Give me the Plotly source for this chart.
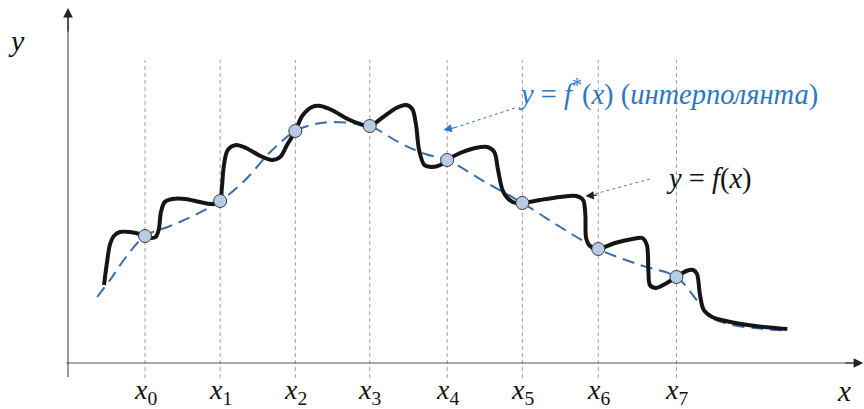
import plotly.graph_objects as go

# Interpolation nodes x_i and the values f(x_i)
node_x = [0.0, 0.99, 1.98, 2.96, 3.98, 4.97, 5.97, 7.00]
node_y = [5.08, 6.48, 9.28, 9.48, 8.12, 6.40, 4.56, 3.44]
node_subs = ["0", "1", "2", "3", "4", "5", "6", "7"]

# The original function y = f(x) (wavy curve)
f_x = [-0.54, -0.50, -0.46, -0.41, -0.33, -0.20, -0.07, 0.0, 0.08, 0.14, 0.18, 0.21,
       0.26, 0.36, 0.53, 0.72, 0.88, 0.99, 1.01, 1.04, 1.09, 1.20, 1.33, 1.52, 1.67,
       1.78, 1.87, 1.98, 2.07, 2.20, 2.31, 2.46, 2.67, 2.83, 2.96, 3.12, 3.31, 3.44,
       3.52, 3.57, 3.61, 3.68, 3.78, 3.89, 3.98, 4.15, 4.35, 4.51, 4.60, 4.65, 4.72,
       4.84, 4.97, 5.20, 5.47, 5.68, 5.77, 5.80, 5.81, 5.86, 5.97, 6.19, 6.42, 6.55,
       6.61, 6.63, 6.65, 6.73, 6.85, 7.00, 7.13, 7.22, 7.27, 7.31, 7.36, 7.47, 7.71,
       8.04, 8.46]
f_y = [3.12, 4.04, 4.76, 5.08, 5.24, 5.24, 5.16, 5.08, 5.00, 5.04, 5.32, 6.04,
       6.44, 6.56, 6.56, 6.44, 6.36, 6.48, 6.92, 7.92, 8.52, 8.72, 8.60, 8.28, 8.12,
       8.24, 8.72, 9.28, 9.88, 10.24, 10.28, 10.12, 9.76, 9.56, 9.48, 9.80, 10.20, 10.32,
       10.16, 9.52, 8.52, 7.92, 7.84, 7.92, 8.12, 8.40, 8.60, 8.64, 8.44, 7.72, 6.84,
       6.44, 6.40, 6.52, 6.64, 6.68, 6.52, 5.92, 5.00, 4.68, 4.56, 4.80, 4.96, 5.00,
       4.72, 3.72, 3.12, 3.00, 3.16, 3.44, 3.68, 3.72, 3.56, 2.72, 2.12, 1.84, 1.64,
       1.48, 1.36]

# The interpolant y = f*(x) (dashed curve)
p_x = [-0.63, -0.46, -0.26, 0.0, 0.33, 0.66, 0.99, 1.32, 1.65, 1.98, 2.24, 2.44,
       2.70, 2.96, 3.36, 3.69, 3.98, 4.48, 4.97, 5.47, 5.97, 6.52, 7.00, 7.25, 7.44,
       7.71, 8.10, 8.46]
p_y = [2.64, 3.32, 4.20, 5.08, 5.48, 5.92, 6.48, 7.32, 8.44, 9.28, 9.56, 9.64,
       9.60, 9.48, 8.80, 8.36, 8.12, 7.24, 6.40, 5.44, 4.56, 3.92, 3.44, 2.58, 1.86,
       1.54, 1.38, 1.30]

SERIF = "Liberation Serif"
BLUE_TXT = "#2c78c0"
BLUE_LINE = "#3a6ca6"
AXIS = "#555555"

fig = go.Figure()

# vertical guide lines through the nodes
for xv in node_x:
    fig.add_shape(type="line", x0=xv, x1=xv, y0=-0.6, y1=12.12,
                  line=dict(color="#a0a0a0", width=1, dash="4px,3px"), layer="below")

# coordinate axes
fig.add_shape(type="line", x0=-1.04, x1=9.40, y0=0, y1=0,
              line=dict(color=AXIS, width=1.2))
fig.add_shape(type="line", x0=-1.014, x1=-1.014, y0=-0.56, y1=14.0,
              line=dict(color=AXIS, width=1.2))
fig.add_annotation(x=9.46, y=0, ax=9.2, ay=0, axref="x", ayref="y", xref="x", yref="y",
                   text="", showarrow=True, arrowhead=2, arrowsize=1.6, arrowwidth=1.2,
                   arrowcolor="#222")
fig.add_annotation(x=-1.014, y=14.2, ax=-1.014, ay=13.2, axref="x", ayref="y",
                   xref="x", yref="y", text="", showarrow=True, arrowhead=2,
                   arrowsize=1.6, arrowwidth=1.2, arrowcolor="#222")

# interpolant
fig.add_trace(go.Scatter(x=p_x, y=p_y, mode="lines",
                         line=dict(color=BLUE_LINE, width=2, dash="12px,7px",
                                   shape="spline", smoothing=1.0),
                         hoverinfo="skip", showlegend=False))
# original function
fig.add_trace(go.Scatter(x=f_x, y=f_y, mode="lines",
                         line=dict(color="#151515", width=4, shape="spline", smoothing=0.9),
                         hoverinfo="skip", showlegend=False))
# nodes
fig.add_trace(go.Scatter(x=node_x, y=node_y, mode="markers",
                         marker=dict(size=13, color="#b8cbe4",
                                     line=dict(color="#3a3a3a", width=1)),
                         hoverinfo="skip", showlegend=False))

# node labels under the x axis
for xv, sub in zip(node_x, node_subs):
    fig.add_annotation(x=xv, y=-1.15, text=f"<i>x</i><sub>{sub}</sub>", showarrow=False,
                       font=dict(family=SERIF, size=28, color="#111"),
                       xref="x", yref="y")

# axis names
fig.add_annotation(x=-1.69, y=12.9, text="<i>y</i>", showarrow=False,
                   font=dict(family=SERIF, size=30, color="#111"))
fig.add_annotation(x=9.2, y=-1.1, text="<i>x</i>", showarrow=False,
                   font=dict(family=SERIF, size=29, color="#111"))

# pointer to the interpolant
fig.add_shape(type="line", x0=4.87, y0=10.2, x1=4.05, y1=9.38,
              line=dict(color=BLUE_TXT, width=1, dash="dot"))
fig.add_annotation(x=3.93, y=9.32, ax=4.10, ay=9.43, axref="x", ayref="y",
                   text="", showarrow=True, arrowhead=2, arrowsize=1.4,
                   arrowwidth=1.2, arrowcolor=BLUE_TXT)
fig.add_annotation(x=4.88, y=10.84,
                   text="<i>y</i> = <i>f</i><sup>*</sup>(<i>x</i>) (<i>интерполянта</i>)",
                   showarrow=False, xanchor="left",
                   font=dict(family=SERIF, size=28.5, color=BLUE_TXT))

# pointer to the original function
fig.add_shape(type="line", x0=6.65, y0=7.36, x1=5.92, y1=6.76,
              line=dict(color="#777", width=1, dash="dot"))
fig.add_annotation(x=5.80, y=6.68, ax=5.97, ay=6.72, axref="x", ayref="y",
                   text="", showarrow=True, arrowhead=2, arrowsize=1.4,
                   arrowwidth=1.2, arrowcolor="#222")
fig.add_annotation(x=6.83, y=7.36, text="<i>y</i> = <i>f</i>(<i>x</i>)",
                   showarrow=False, xanchor="left",
                   font=dict(family=SERIF, size=28.5, color="#111"))

fig.update_layout(
    width=864, height=409,
    margin=dict(l=0, r=0, t=0, b=0),
    paper_bgcolor="white", plot_bgcolor="white",
    font=dict(family=SERIF),
    xaxis=dict(range=[-1.91, 9.47], visible=False, fixedrange=True),
    yaxis=dict(range=[-1.84, 14.52], visible=False, fixedrange=True),
)

fig.write_html("out.html")
